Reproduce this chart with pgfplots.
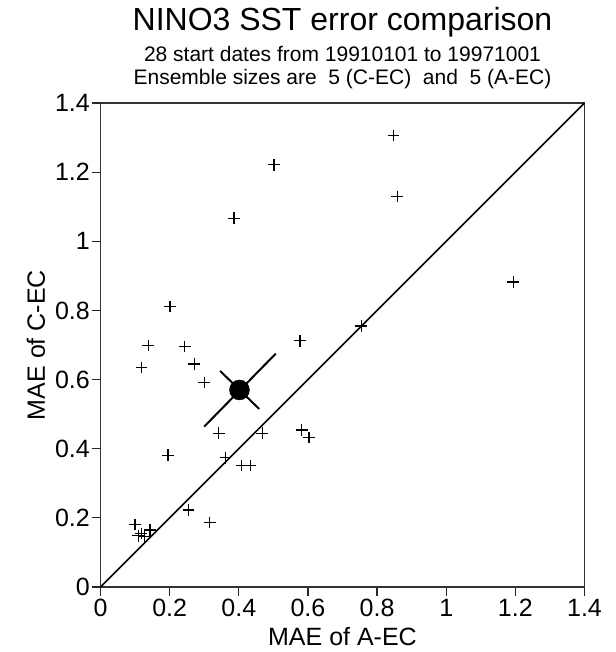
\documentclass[border=0pt]{standalone}
\usepackage{fontspec}
\setmainfont{Liberation Sans}
\usepackage{pgfplots}
\pgfplotsset{compat=1.18}
\begin{document}
\begin{tikzpicture}
\path[use as bounding box] (-100.5pt,-65pt) rectangle (514.5pt,587pt);
\begin{axis}[
  x=345.7pt, y=345.7pt,
  xmin=0, xmax=1.4, ymin=0, ymax=1.4,
  xtick={0,0.2,0.4,0.6,0.8,1,1.2,1.4},
  ytick={0,0.2,0.4,0.6,0.8,1,1.2,1.4},
  xticklabels={0,0.2,0.4,0.6,0.8,1,1.2,1.4},
  yticklabels={0,0.2,0.4,0.6,0.8,1,1.2,1.4},
  tick pos=left,
  tick align=outside,
  major tick length=9pt,
  tick style={black!85, line width=1.2pt},
  axis line style={black!80, line width=1.6pt},
  /pgf/number format/assume math mode=true,
  ticklabel style={font=\fontsize{25}{30}\selectfont},
  yticklabel style={inner xsep=1.5pt},
  xlabel={MAE of A-EC},
  ylabel={MAE of C-EC},
  label style={font=\fontsize{25}{30}\selectfont},
  xlabel style={at={(axis description cs:0.5,-0.1219)}, anchor=base},
  ylabel style={at={(axis description cs:-0.1147,0.5)}, anchor=base},
  clip=false,
]
\addplot[line width=1.5pt, black] coordinates {(0,0) (1.4,1.4)};
\addplot[only marks, mark=+, mark size=5.8pt, mark options={line width=1.2pt, black}] table {
x y
0.502 1.221
0.386 1.067
0.201 0.811
0.847 1.306
0.858 1.130
1.194 0.882
0.754 0.755
0.138 0.698
0.244 0.696
0.119 0.635
0.271 0.645
0.300 0.592
0.577 0.712
0.342 0.445
0.468 0.445
0.582 0.454
0.603 0.432
0.195 0.381
0.361 0.374
0.409 0.352
0.434 0.352
0.255 0.223
0.316 0.187
0.100 0.181
0.143 0.165
0.109 0.148
0.127 0.146
0.118 0.155
};
\addplot[line width=2pt, black] coordinates {(0.300,0.464) (0.507,0.675)};
\addplot[line width=2pt, black] coordinates {(0.346,0.625) (0.459,0.515)};
\addplot[only marks, mark=*, mark size=10pt, mark options={black, fill=black}] coordinates {(0.402,0.570)};
\node[anchor=base, yshift=73pt, font=\fontsize{32}{38}\selectfont] at (rel axis cs:0.5,1) {NINO3 SST error comparison};
\node[anchor=base, yshift=42pt, font=\fontsize{21}{25}\selectfont] at (rel axis cs:0.5,1) {28 start dates from 19910101 to 19971001};
\node[anchor=base, yshift=18.7pt, font=\fontsize{21}{25}\selectfont] at (rel axis cs:0.5,1) {Ensemble sizes are\ \ 5 (C-EC)\ \ and\ \ 5 (A-EC)};
\end{axis}
\end{tikzpicture}
\end{document}
